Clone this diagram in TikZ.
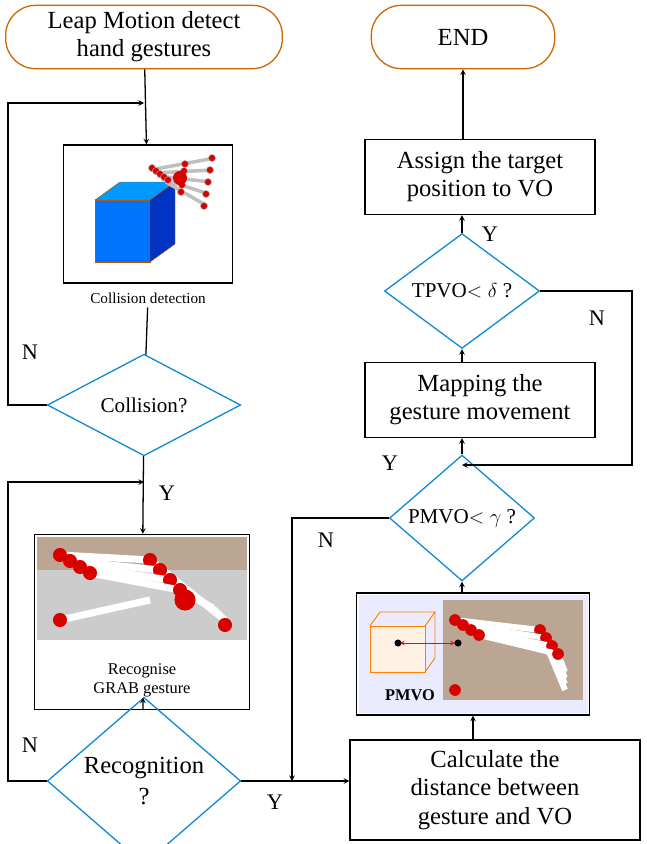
\documentclass[tikz,border=0pt]{standalone}
\usepackage{fontspec}
\setmainfont{Liberation Serif}
\usetikzlibrary{shapes.geometric, arrows, positioning}
\tikzstyle{terminal} = [rectangle, rounded corners=0.9cm, minimum width=8.3cm, minimum height=1.9cm, text centered, draw=orange!80!black, line width=1.1pt, align=center, font=\fontsize{21}{24}\selectfont]
\tikzstyle{process} = [rectangle, minimum width=6.9cm, text centered, draw=black, line width=1.1pt, align=center, font=\fontsize{21}{24}\selectfont]
\tikzstyle{imgbox} = [rectangle, draw=black, line width=1.1pt, inner sep=0pt]
\tikzstyle{decision} = [diamond, draw=cyan!70!blue, line width=1.1pt, inner sep=0pt, align=center, font=\fontsize{18}{21}\selectfont]
\tikzstyle{lbl} = [font=\fontsize{19}{22}\selectfont]
\tikzstyle{arrow} = [line width=1.1pt,->,>=stealth]
\tikzstyle{joint} = [red!85!black, draw=gray!60]
\begin{document}
\begin{tikzpicture}[x=0.03cm, y=-0.03cm]
            \useasboundingbox (0,0) rectangle (646,844);
            % Left column
            \node[terminal] (start) at (144,37) {Leap Motion detect\\hand gestures};
            \node[imgbox, minimum width=5.07cm, minimum height=4.14cm] (collbox) at (148,214) {};
            \node[font=\fontsize{13}{15}\selectfont] (colltxt) at (148,298) {Collision detection};
            \node[decision, minimum width=5.8cm, minimum height=3cm] (coll) at (144,405) {Collision?};
            \node[imgbox, minimum width=6.45cm, minimum height=5.25cm] (grabbox) at (142,622) {};
            \node[decision, minimum width=5.8cm, minimum height=2.9cm, font=\fontsize{21}{26}\selectfont] (recog) at (144,781) {Recognition\\?};
            % Right column
            \node[process, minimum width=8.7cm, minimum height=3cm] (calc) at (495,790) {Calculate the\\distance between\\gesture and VO};
            \node[imgbox, minimum width=7cm, minimum height=3.66cm] (pmvobox) at (473,654) {};
            \node[decision, minimum width=4.35cm, minimum height=2.2cm] (pmvo) at (462,518) {PMVO$<\gamma$ ?};
            \node[process, minimum height=2.25cm] (mapping) at (480,400) {Mapping the\\gesture movement};
            \node[decision, minimum width=4.65cm, minimum height=2.2cm] (tpvo) at (462,291) {TPVO$<\delta$ ?};
            \node[process, minimum height=2.25cm] (assign) at (480,177) {Assign the target\\position to VO};
            \node[terminal, minimum width=5.5cm] (end) at (463,37) {END};
            \coordinate (loopa) at (8,103);
            \coordinate (loopb) at (8,482);
            \coordinate (merge) at (292,781);
            \coordinate (nright) at (632,465);

            % Picture in first box
            \begin{scope}
                \fill[blue!55!cyan, draw=orange!70!black] (95,200) rectangle (150,262);
                \fill[blue!40!cyan, draw=orange!70!black] (95,200) -- (120,182) -- (175,182) -- (150,200) -- cycle;
                \fill[blue!70!black!80!cyan, draw=orange!70!black] (150,200) -- (175,182) -- (175,244) -- (150,262) -- cycle;
                \foreach \i in {0,...,4} {
                    \draw[gray!50, line width=3pt] (150+\i*4,170+\i*3) -- (215-\i*2,158+\i*12);
                    \fill[joint] (152+\i*4,168+\i*3) circle (3pt);
                    \fill[joint] (185-\i*1,164+\i*7) circle (3pt);
                    \fill[joint] (212-\i*2,158+\i*12) circle (3pt);
                }
                \fill[red!85!black] (180,178) circle (6pt);
            \end{scope}

            % Picture in second box
            \begin{scope}
                \fill[gray!55!brown!70] (37,537) rectangle (247,640);
                \fill[gray!40] (37,570) rectangle (247,640);
                \foreach \i in {0,...,3} {
                    \draw[white, line width=6pt] (60+\i*10,555+\i*6) -- (150+\i*10,560+\i*10) -- (225-\i*4,620-\i*4);
                    \fill[red!85!black] (60+\i*10,555+\i*6) circle (6pt);
                    \fill[red!85!black] (150+\i*10,560+\i*10) circle (6pt);
                }
                \draw[white, line width=6pt] (60,620) -- (150,600);
                \fill[red!85!black] (60,620) circle (6pt);
                \fill[red!85!black] (185,600) circle (9pt);
                \fill[red!85!black] (225,625) circle (6pt);
                \node[font=\fontsize{14}{16}\selectfont, align=center] (grabtxt) at (142,680) {Recognise\\GRAB gesture};
            \end{scope}

            % Picture in third box
            \begin{scope}
                \fill[blue!8] (359,595) rectangle (588,713);
                \fill[gray!55!brown!70] (443,600) rectangle (583,700);
                \foreach \i in {0,...,3} {
                    \draw[white, line width=5pt] (455+\i*8,620+\i*5) -- (540+\i*6,630+\i*8) -- (565,690-\i*6);
                    \fill[red!85!black] (455+\i*8,620+\i*5) circle (5pt);
                    \fill[red!85!black] (540+\i*6,630+\i*8) circle (5pt);
                }
                \fill[red!85!black] (455,690) circle (5pt);
                \fill[orange!10, draw=orange, thick] (370,626) rectangle (425,672);
                \draw[orange, thick] (370,626) -- (380,612) -- (435,612) -- (425,626);
                \draw[orange, thick] (435,612) -- (435,658) -- (425,672);
                \draw[red, thick, <->, >=stealth] (400,643) -- (455,643);
                \fill[black] (398,643) circle (3pt);
                \fill[black] (458,643) circle (3pt);
                \node[font=\bfseries\fontsize{14}{16}\selectfont] (pmvotxt) at (410,695) {PMVO};
            \end{scope}

            % Arrows
            \draw[arrow] (start) -- (collbox);
            \draw[line width=1.1pt] (colltxt) -- (coll);
            \draw[arrow] (coll.west) -- (loopa |- coll.west) -- (loopa) -- (start.south |- loopa);
            \draw[arrow] (coll) -- (grabbox);
            \draw[arrow] (grabbox) -- (recog);
            \draw[arrow] (recog.west) -- (loopb |- recog.west) -- (loopb) -- (coll.south |- loopb);
            \draw[arrow] (recog.east) -- (calc.west |- recog.east);
            \draw[arrow] (pmvo.west) -- (merge |- pmvo.west) -- (merge);
            \draw[arrow] (calc.north -| pmvobox) -- (pmvobox);
            \draw[arrow] (pmvobox.north -| pmvo) -- (pmvo);
            \draw[arrow] (pmvo) -- (mapping.south -| pmvo);
            \draw[arrow] (mapping.north -| tpvo) -- (tpvo);
            \draw[arrow] (tpvo) -- (assign.south -| tpvo);
            \draw[arrow] (assign.north -| end) -- (end);
            \draw[arrow] (tpvo.east) -- (nright |- tpvo.east) -- (nright) -- (pmvo.north |- nright);
            \node[lbl] at (30,352) {N};
            \node[lbl] at (167,493) {Y};
            \node[lbl] at (30,745) {N};
            \node[lbl] at (275,802) {Y};
            \node[lbl] at (326,540) {N};
            \node[lbl] at (390,463) {Y};
            \node[lbl] at (597,318) {N};
            \node[lbl] at (490,234) {Y};
        \end{tikzpicture}
\end{document}
